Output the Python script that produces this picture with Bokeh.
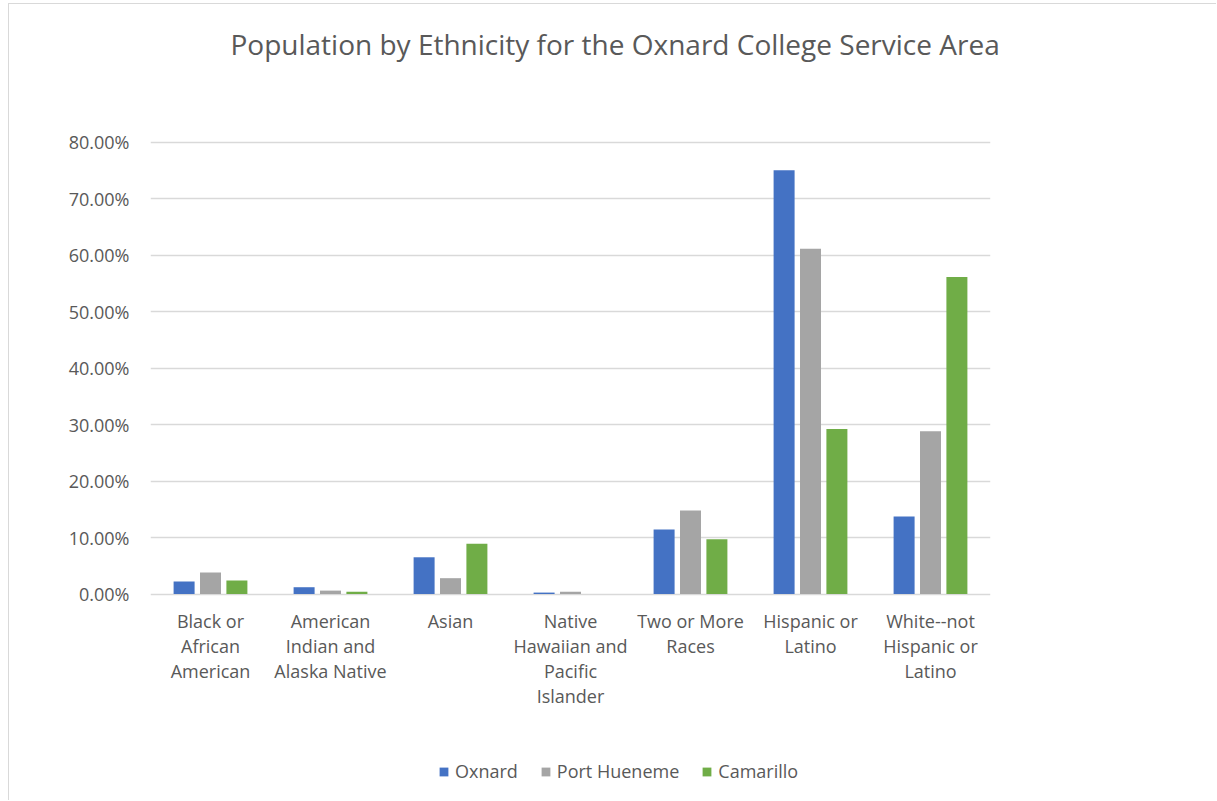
from bokeh.plotting import figure
from bokeh.models import (FactorRange, NumeralTickFormatter, FixedTicker, Legend,
                          LegendItem, ColumnDataSource, Range1d)
from bokeh.core.properties import value
from bokeh.transform import dodge
from bokeh.embed import file_html
from bokeh.resources import INLINE

categories = ["Black or African American",
              "American Indian and Alaska Native",
              "Asian",
              "Native Hawaiian and Pacific Islander",
              "Two or More Races",
              "Hispanic or Latino",
              "White--not Hispanic or Latino"]
category_lines = [["Black or", "African", "American"],
                  ["American", "Indian and", "Alaska Native"],
                  ["Asian"],
                  ["Native", "Hawaiian and", "Pacific", "Islander"],
                  ["Two or More", "Races"],
                  ["Hispanic or", "Latino"],
                  ["White--not", "Hispanic or", "Latino"]]
series = ["Oxnard", "Port Hueneme", "Camarillo"]
oxnard = [0.022, 0.012, 0.065, 0.0025, 0.114, 0.750, 0.137]
port_hueneme = [0.038, 0.006, 0.028, 0.004, 0.148, 0.611, 0.288]
camarillo = [0.024, 0.004, 0.089, 0.0, 0.097, 0.292, 0.561]
y_ticks = [0.0, 0.1, 0.2, 0.3, 0.4, 0.5, 0.6, 0.7, 0.8]
colors = ["#4472C4", "#A5A5A5", "#70AD47"]
title_text = "Population by Ethnicity for the Oxnard College Service Area"

src = ColumnDataSource(dict(cat=categories, Oxnard=oxnard,
                            PortHueneme=port_hueneme, Camarillo=camarillo))

lab_cat, lab_txt, lab_off = [], [], []
for cat, lines in zip(categories, category_lines):
    for k, line in enumerate(lines):
        lab_cat.append(cat)
        lab_txt.append(line)
        lab_off.append(27 + 25 * k)
lab_src = ColumnDataSource(dict(cat=lab_cat, txt=lab_txt, off=lab_off,
                                y=[0.0] * len(lab_cat)))

FONT = "Open Sans"
TXT = "#595959"
FS = "18px"

Y_TOP = 0.93186
Y_BOTTOM = -0.3584

# the frame extends below zero so the category labels and legend sit inside it
p = figure(x_range=FactorRange(factors=categories), y_range=Range1d(Y_BOTTOM, Y_TOP),
           width=1208, height=797, output_backend="svg", toolbar_location=None,
           min_border_left=141, min_border_right=227, min_border_top=63,
           min_border_bottom=5,
           styles={"margin-left": "8px", "margin-top": "3px",
                   "border-left": "1.5px solid #d9d9d9",
                   "border-top": "1.5px solid #d9d9d9"})

p.title.text = title_text
p.title.align = "left"
p.title.offset = 80
p.title.standoff = 10
p.title.text_font = FONT
p.title.text_font_size = "28px"
p.title.text_font_style = "normal"
p.title.text_color = TXT

cols = ["Oxnard", "PortHueneme", "Camarillo"]
offsets = [-0.22, 0.0, 0.22]
renderers = []
for col, off, c in zip(cols, offsets, colors):
    r = p.vbar(x=dodge("cat", off, range=p.x_range), top=col, width=0.175,
               source=src, fill_color=c, line_color=None)
    renderers.append(r)

p.text(x="cat", y="y", text="txt", y_offset="off", source=lab_src,
       text_align="center", text_baseline="middle", text_font=value(FONT),
       text_font_size=FS, text_color=TXT)

p.yaxis.ticker = FixedTicker(ticks=y_ticks)
p.yaxis.formatter = NumeralTickFormatter(format="0.00%")
p.yaxis.axis_line_color = None
p.yaxis.major_tick_line_color = None
p.yaxis.minor_tick_line_color = None
p.yaxis.major_label_text_font = FONT
p.yaxis.major_label_text_font_size = FS
p.yaxis.major_label_text_color = TXT
p.yaxis.major_label_standoff = 15

p.xaxis.visible = False

p.xgrid.grid_line_color = None
p.ygrid.ticker = FixedTicker(ticks=y_ticks)
p.ygrid.grid_line_color = "#d9d9d9"
p.ygrid.grid_line_width = 1.5
p.outline_line_color = None

legend = Legend(items=[LegendItem(label=s, renderers=[r]) for s, r in zip(series, renderers)],
                orientation="horizontal", location=(288, 13),
                label_text_font=FONT, label_text_font_size=FS,
                label_text_color=TXT, glyph_width=11, glyph_height=11,
                spacing=22, label_standoff=6, border_line_color=None,
                background_fill_alpha=0)
p.add_layout(legend, "center")

open("out.html", "w").write(file_html(p, INLINE))
